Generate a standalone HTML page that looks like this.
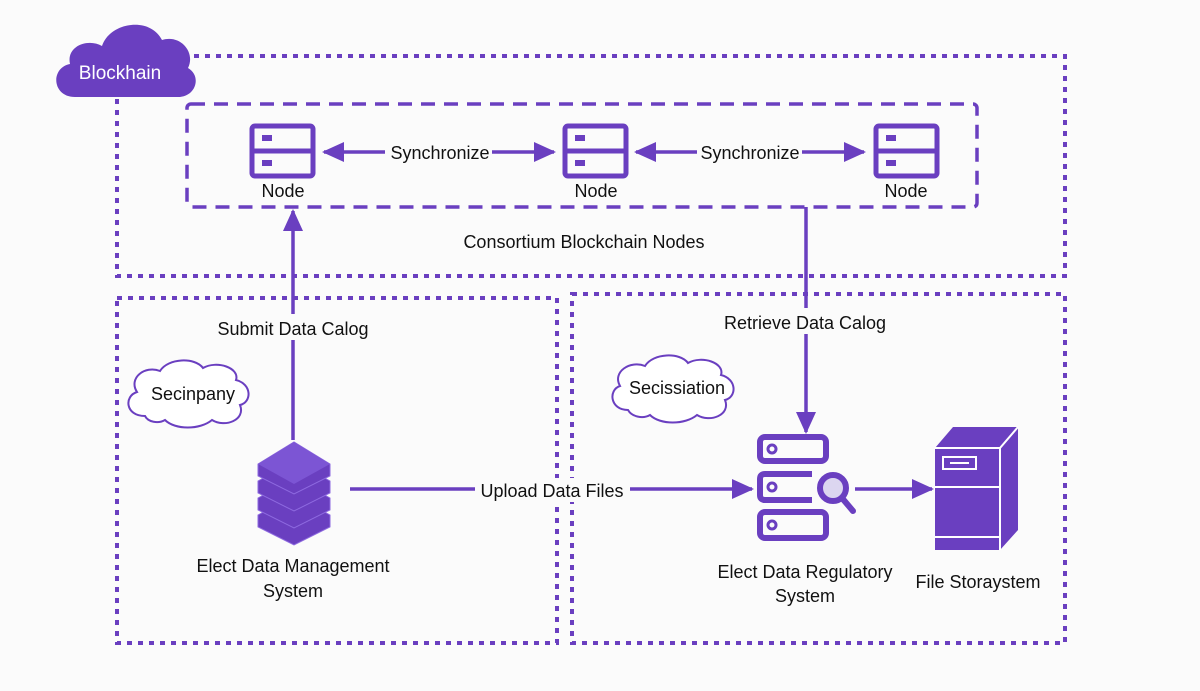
<!DOCTYPE html>
<html><head><meta charset="utf-8"><style>
html,body{margin:0;padding:0;background:#fbfbfb;}
svg{display:block;}
text{font-family:"Liberation Sans",sans-serif;fill:#111;}
</style></head><body>
<svg width="1200" height="691" viewBox="0 0 1200 691" xmlns="http://www.w3.org/2000/svg">
<defs>
<marker id="ah" markerWidth="22" markerHeight="20" refX="20" refY="10" orient="auto" markerUnits="userSpaceOnUse" viewBox="0 0 22 20">
<path d="M0,0 L22,10 L0,20 z" fill="#6a3fc0"/></marker>
</defs>
<g fill="none" stroke="#6a3fc0">
<rect x="117" y="56" width="948" height="220" stroke-width="4" stroke-dasharray="5 6"/>
<rect x="187" y="104" width="790" height="103" rx="4" stroke-width="3.5" stroke-dasharray="14 9"/>
<rect x="117" y="298" width="440" height="345" stroke-width="4" stroke-dasharray="5 6"/>
<rect x="572" y="294" width="493" height="349" stroke-width="4" stroke-dasharray="5 6"/>
</g>
<!-- Blockchain cloud -->
<path d="M75,97 C52,97 50,68 70,64 C66,46 88,38 102,46 C110,22 150,16 162,40 C180,34 196,52 188,68 C202,76 196,97 178,97 Z" fill="#6a3fc0"/>
<text x="120" y="79" font-size="19" text-anchor="middle" style="fill:#fff">Blockhain</text>
<!-- nodes -->
<g fill="none" stroke="#6a3fc0" stroke-width="5">
<rect x="252" y="126" width="61" height="50" rx="3"/><line x1="252" y1="151" x2="313" y2="151"/>
<rect x="565" y="126" width="61" height="50" rx="3"/><line x1="565" y1="151" x2="626" y2="151"/>
<rect x="876" y="126" width="61" height="50" rx="3"/><line x1="876" y1="151" x2="937" y2="151"/>
</g>
<g fill="#6a3fc0">
<rect x="262" y="135" width="10" height="6"/><rect x="262" y="160" width="10" height="6"/>
<rect x="575" y="135" width="10" height="6"/><rect x="575" y="160" width="10" height="6"/>
<rect x="886" y="135" width="10" height="6"/><rect x="886" y="160" width="10" height="6"/>
</g>
<g font-size="18" text-anchor="middle">
<text x="283" y="197">Node</text><text x="596" y="197">Node</text><text x="906" y="197">Node</text>
</g>
<!-- arrows -->
<g stroke="#6a3fc0" stroke-width="3.5" fill="none">
<line x1="385" y1="152" x2="324" y2="152" marker-end="url(#ah)"/>
<line x1="492" y1="152" x2="554" y2="152" marker-end="url(#ah)"/>
<line x1="697" y1="152" x2="636" y2="152" marker-end="url(#ah)"/>
<line x1="802" y1="152" x2="864" y2="152" marker-end="url(#ah)"/>
<line x1="293" y1="440" x2="293" y2="211" marker-end="url(#ah)"/>
<line x1="806" y1="207" x2="806" y2="432" marker-end="url(#ah)"/>
<line x1="350" y1="489" x2="752" y2="489" marker-end="url(#ah)"/>
<line x1="855" y1="489" x2="932" y2="489" marker-end="url(#ah)"/>
</g>
<g font-size="18" text-anchor="middle">
<text x="440" y="159">Synchronize</text>
<text x="750" y="159">Synchronize</text>
<text x="584" y="248">Consortium Blockchain Nodes</text>
<rect x="205" y="314" width="175" height="26" fill="#fbfbfb"/>
<text x="293" y="335">Submit Data Calog</text>
<rect x="718" y="308" width="175" height="26" fill="#fbfbfb"/>
<text x="805" y="329">Retrieve Data Calog</text>
<rect x="475" y="478" width="155" height="24" fill="#fbfbfb"/>
<text x="552" y="497">Upload Data Files</text>
<text x="293" y="572">Elect Data Management</text>
<text x="293" y="597">System</text>
<text x="805" y="578">Elect Data Regulatory</text>
<text x="805" y="602">System</text>
<text x="978" y="588">File Storaystem</text>
</g>
<!-- clouds -->
<path d="M145,416 C125,416 124,396 137,392 C128,378 145,365 160,371 C168,358 195,357 203,368 C217,360 240,368 236,380 C252,384 252,402 240,405 C246,420 225,428 212,420 C200,430 175,430 165,420 C158,424 148,422 145,416 Z" fill="#fff" stroke="#6a3fc0" stroke-width="2"/>
<text x="193" y="400" font-size="18" text-anchor="middle">Secinpany</text>
<path d="M628,410 C610,410 608,390 620,386 C612,372 630,360 645,366 C653,353 680,352 688,363 C702,355 725,363 721,375 C737,379 737,397 725,400 C731,415 710,423 697,415 C685,425 660,425 650,415 C643,419 632,417 628,410 Z" fill="#fff" stroke="#6a3fc0" stroke-width="2"/>
<text x="677" y="394" font-size="18" text-anchor="middle">Secissiation</text>
<!-- stacked server -->
<g fill="#6a3fc0" stroke="#8e6ae0" stroke-width="1">
<path d="M258,515 L294,495 L330,515 L330,527 L294,545 L258,527 Z"/>
<path d="M258,498 L294,478 L330,498 L330,510 L294,528 L258,510 Z"/>
<path d="M258,481 L294,461 L330,481 L330,493 L294,511 L258,493 Z"/>
<path d="M258,464 L294,442 L330,464 L330,476 L294,494 L258,476 Z"/>
</g>
<path d="M258,464 L294,442 L330,464 L294,484 Z" fill="#7c55d4"/>
<!-- regulatory icon -->
<g fill="none" stroke="#6a3fc0" stroke-width="6">
<rect x="760" y="437" width="66" height="24" rx="5"/>
<path d="M812,474 L765,474 Q760,474 760,479 L760,495 Q760,500 765,500 L812,500"/>
<rect x="760" y="512" width="66" height="26" rx="5"/>
<circle cx="833" cy="488" r="13" fill="#dcd6f0"/>
<line x1="842" y1="498" x2="853" y2="511" stroke-linecap="round"/>
</g>
<g fill="none" stroke="#6a3fc0" stroke-width="3">
<circle cx="772" cy="449" r="4"/><circle cx="772" cy="487" r="4"/><circle cx="772" cy="525" r="4"/>
</g>
<!-- storage -->
<path d="M935,448 L953,427 L1018,427 L1018,530 L1000,550 L935,550 Z" fill="#6a3fc0"/>
<g stroke="#fff" stroke-width="2" fill="none">
<path d="M935,448 L1000,448 L1018,427 M1000,448 L1000,550"/>
<line x1="935" y1="487" x2="1000" y2="487"/>
<line x1="935" y1="537" x2="1000" y2="537"/>
<rect x="943" y="457" width="33" height="12"/>
<line x1="950" y1="463" x2="969" y2="463"/>
</g>
</svg>
</body></html>
